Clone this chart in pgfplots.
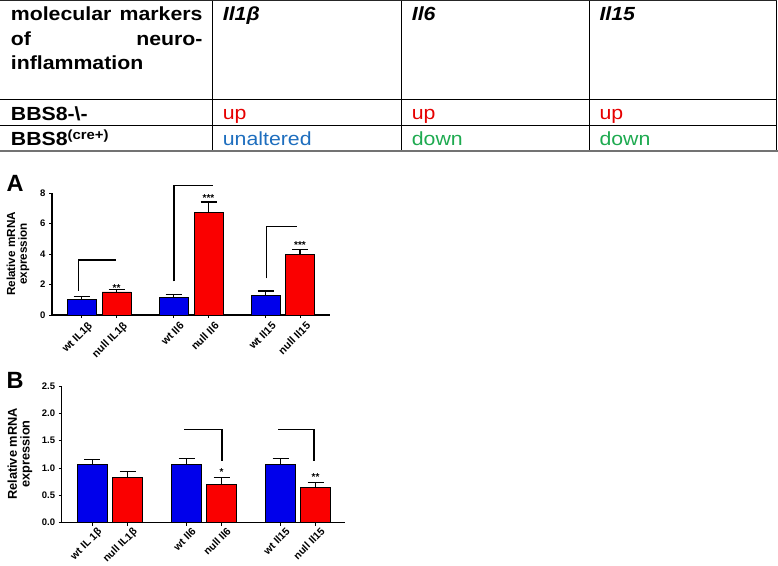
\documentclass[border=0pt]{standalone}
\usepackage{fontspec}
\setmainfont{Liberation Sans}
\setsansfont{Liberation Sans}
\newfontfamily\tabfont[FakeStretch=1.12]{Liberation Sans}
\usepackage{pgfplots}
\pgfplotsset{compat=1.18}

\definecolor{barblue}{RGB}{0,0,235}
\definecolor{barred}{RGB}{250,0,0}
\definecolor{upred}{RGB}{230,0,0}
\definecolor{unblue}{RGB}{30,110,190}
\definecolor{dngreen}{RGB}{30,170,80}

\newcommand{\fs}[1]{\fontsize{#1}{#1}\selectfont}

\pgfplotsset{
  panel/.style={
    scale only axis, anchor=south west, clip=false,
    axis lines*=left,
    axis line style={line width=1.1pt},
    tick style={line width=1pt, black},
    tick align=outside, major tick length=3pt,
    /pgf/number format/assume math mode=true,
    yticklabel style={font=\fs{9.5}\bfseries},
  },
  errs/.style={
    error bars/y dir=plus, error bars/y explicit,
    error bars/error mark=-,
    error bars/error bar style={line width=1.2pt, black},
    error bars/error mark options={rotate=90, mark size=8pt, line width=1.2pt, black}},
  wt/.style={ybar, bar shift=0pt, fill=barblue, draw=black, line width=0.9pt, errs},
  ko/.style={ybar, bar shift=0pt, fill=barred, draw=black, line width=0.9pt, errs},
}

\begin{document}
\begin{tikzpicture}
\path[use as bounding box] (0,0) rectangle (778pt,-565pt);

% table
\begin{scope}[x=1pt,y=-1pt]
  \draw[line width=1pt, black!85] (0,0.7) -- (777,0.7);
  \draw[line width=0.8pt] (0,99.3) -- (777,99.3);
  \draw[line width=0.8pt] (0,125.3) -- (777,125.3);
  \foreach \xx in {212.7,401,589.3,776.7}
    \draw[line width=0.8pt] (\xx,0.7) -- (\xx,150.7);
  \draw[line width=2pt, black!55] (0,150.7) -- (777.5,150.7);

  \begin{scope}[every node/.style={inner sep=0pt, anchor=base west}]
    \node[font=\tabfont\fs{19}\bfseries] at (10.7,20.7) {\makebox[191.6pt][s]{molecular markers}};
    \node[font=\tabfont\fs{19}\bfseries] at (10.7,45) {\makebox[191.6pt][s]{of neuro-}};
    \node[font=\tabfont\fs{19}\bfseries] at (10.7,69.3) {inflammation};
    \node[font=\tabfont\fs{19}\bfseries\itshape] at (222.7,20.7) {Il1β};
    \node[font=\tabfont\fs{19}\bfseries\itshape] at (411.7,20.7) {Il6};
    \node[font=\tabfont\fs{19}\bfseries\itshape] at (599.3,20.7) {Il15};
    \node[font=\tabfont\fs{19}\bfseries] at (10.7,120) {BBS8-\textbackslash-};
    \node[font=\tabfont\fs{19}\bfseries] at (10.7,145.3) {BBS8\textsuperscript{(cre+)}};
    \node[font=\tabfont\fs{19}, text=upred] at (222.7,119.5) {up};
    \node[font=\tabfont\fs{19}, text=upred] at (411.7,119.5) {up};
    \node[font=\tabfont\fs{19}, text=upred] at (599.3,119.5) {up};
    \node[font=\tabfont\fs{19}, text=unblue] at (222.7,145.3) {unaltered};
    \node[font=\tabfont\fs{19}, text=dngreen] at (411.7,145.3) {down};
    \node[font=\tabfont\fs{19}, text=dngreen] at (599.3,145.3) {down};
  \end{scope}

  \node[font=\fs{23.5}\bfseries] at (15,183.5) {A};
  \node[font=\fs{23.5}\bfseries] at (15,380) {B};
  \node[rotate=90, align=center, font=\fs{11.7}\bfseries, inner sep=0pt] at (18,254)
    {\fontsize{11.7}{11}\selectfont Relative mRNA\\expression};
  \node[rotate=90, align=center, font=\fs{12.8}\bfseries, inner sep=0pt] at (20,454)
    {\fontsize{12.8}{14.5}\selectfont Relative mRNA\\expression};
\end{scope}

% panel A
\begin{axis}[panel,
  at={(52pt,-315pt)}, width=278pt, height=122pt,
  xmin=52, xmax=330, ymin=0, ymax=8,
  ytick={0,2,4,6,8},
  xtick={81.5,116.5,173.5,208.5,265.5,300},
  xticklabels={wt IL1β, null IL1β, wt Il6, null Il6, wt Il15, null Il15},
  x tick label style={rotate=45, anchor=north east, inner sep=0pt, font=\fs{10.8}\bfseries, xshift=2pt, yshift=-6pt},
]
\addplot[wt, bar width=29] coordinates {(81.5,1.03) +- (0,0.17) (173.5,1.16) +- (0,0.20) (265.5,1.25) +- (0,0.32)};
\addplot[ko, bar width=29] coordinates {(116.5,1.51) +- (0,0.17) (208.5,6.73) +- (0,0.68) (300,3.96) +- (0,0.35)};
\draw[line width=1.4pt] (axis cs:78.7,1.6) -- (axis cs:78.7,3.6) -- (axis cs:116,3.6);
\draw[line width=1.4pt] (axis cs:174,2.2) -- (axis cs:174,8.5) -- (axis cs:212.7,8.5);
\draw[line width=1.4pt] (axis cs:266.7,2.4) -- (axis cs:266.7,5.8) -- (axis cs:296.7,5.8);
\node[font=\fs{10}\bfseries, anchor=base, inner sep=0pt] at (axis cs:116.5,1.55) {**};
\node[font=\fs{10}\bfseries, anchor=base, inner sep=0pt] at (axis cs:208.5,7.45) {***};
\node[font=\fs{10}\bfseries, anchor=base, inner sep=0pt] at (axis cs:300,4.35) {***};
\end{axis}

% panel B
\begin{axis}[panel,
  at={(61.7pt,-522.7pt)}, width=283.3pt, height=136.7pt,
  xmin=61.7, xmax=345, ymin=0, ymax=2.5,
  ytick={0,0.5,1,1.5,2,2.5},
  yticklabel style={/pgf/number format/.cd, fixed, fixed zerofill, precision=1},
  xtick={92.3,127.7,186.5,221.5,280.5,315.5},
  xticklabels={wt IL 1β, null IL1β, wt Il6, null Il6, wt Il15, null Il15},
  x tick label style={rotate=45, anchor=north east, inner sep=0pt, font=\fs{10.5}\bfseries, xshift=2.5pt, yshift=-4pt},
]
\addplot[wt, bar width=30] coordinates {(92.3,1.06) +- (0,0.10) (186.5,1.06) +- (0,0.11) (280.5,1.07) +- (0,0.11)};
\addplot[ko, bar width=30] coordinates {(127.7,0.83) +- (0,0.11) (221.5,0.70) +- (0,0.13) (315.5,0.65) +- (0,0.08)};
\draw[line width=1.4pt] (axis cs:184.3,1.71) -- (axis cs:222,1.71) -- (axis cs:222,1.12);
\draw[line width=1.4pt] (axis cs:278.3,1.71) -- (axis cs:314,1.71) -- (axis cs:314,1.12);
\node[font=\fs{10}\bfseries, anchor=base, inner sep=0pt] at (axis cs:221.5,0.86) {*};
\node[font=\fs{10}\bfseries, anchor=base, inner sep=0pt] at (axis cs:315.5,0.78) {**};
\end{axis}
\end{tikzpicture}
\end{document}
